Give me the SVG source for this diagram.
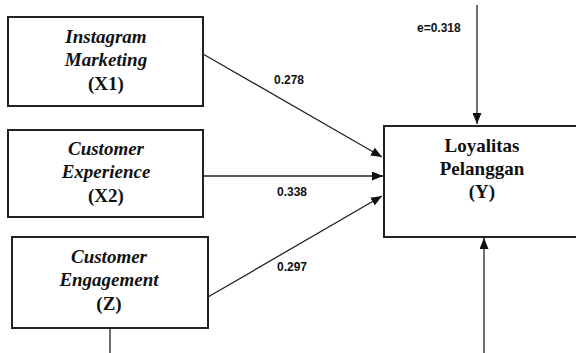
<svg xmlns="http://www.w3.org/2000/svg" width="576" height="353" viewBox="0 0 576 353">
<defs>
<marker id="ah" markerWidth="11" markerHeight="9" refX="11" refY="4.5" orient="auto" markerUnits="userSpaceOnUse">
<path d="M0,0 L11,4.5 L0,9 Z" fill="#111"/>
</marker>
<style>
.box{fill:#fff;stroke:#222;stroke-width:2}
.nt{font-family:'Liberation Serif','DejaVu Serif','Times New Roman',serif;font-size:19px;font-weight:bold;text-anchor:middle;fill:#111}
.it{font-style:italic}
.ln{stroke:#222;stroke-width:1.3;fill:none}
.lb{font-family:'Liberation Sans',Arial,sans-serif;font-size:12px;font-weight:bold;fill:#111}
</style>
</defs>
<rect width="576" height="353" fill="#fff"/>
<g id="connectors">
<line class="ln" x1="203" y1="54" x2="382" y2="157" marker-end="url(#ah)"/>
<line class="ln" x1="203" y1="176" x2="383" y2="176" marker-end="url(#ah)"/>
<line class="ln" x1="208" y1="297" x2="382" y2="196" marker-end="url(#ah)"/>
<line class="ln" x1="477" y1="5" x2="477" y2="124" marker-end="url(#ah)"/>
<line class="ln" x1="484" y1="353" x2="484" y2="238" marker-end="url(#ah)"/>
<line class="ln" x1="110" y1="328" x2="110" y2="353"/>
<text class="lb" x="274" y="84">0.278</text>
<text class="lb" x="277" y="196">0.338</text>
<text class="lb" x="277" y="271">0.297</text>
<text class="lb" x="417" y="32">e=0.318</text>
</g>
<g id="X1">
<rect class="box" x="8" y="17" width="195" height="89"/>
<text class="nt it" x="106" y="43">Instagram</text>
<text class="nt it" x="106" y="66">Marketing</text>
<text class="nt" x="106" y="90">(X1)</text>
</g>
<g id="X2">
<rect class="box" x="8" y="130" width="195" height="87"/>
<text class="nt it" x="106" y="155">Customer</text>
<text class="nt it" x="106" y="178">Experience</text>
<text class="nt" x="106" y="202">(X2)</text>
</g>
<g id="Z">
<rect class="box" x="12" y="237" width="196" height="91"/>
<text class="nt it" x="109" y="263">Customer</text>
<text class="nt it" x="109" y="286">Engagement</text>
<text class="nt" x="109" y="310">(Z)</text>
</g>
<g id="Y">
<rect class="box" x="384" y="126" width="200" height="111"/>
<text class="nt" x="482" y="152">Loyalitas</text>
<text class="nt" x="482" y="175">Pelanggan</text>
<text class="nt" x="482" y="198">(Y)</text>
</g>
</svg>
